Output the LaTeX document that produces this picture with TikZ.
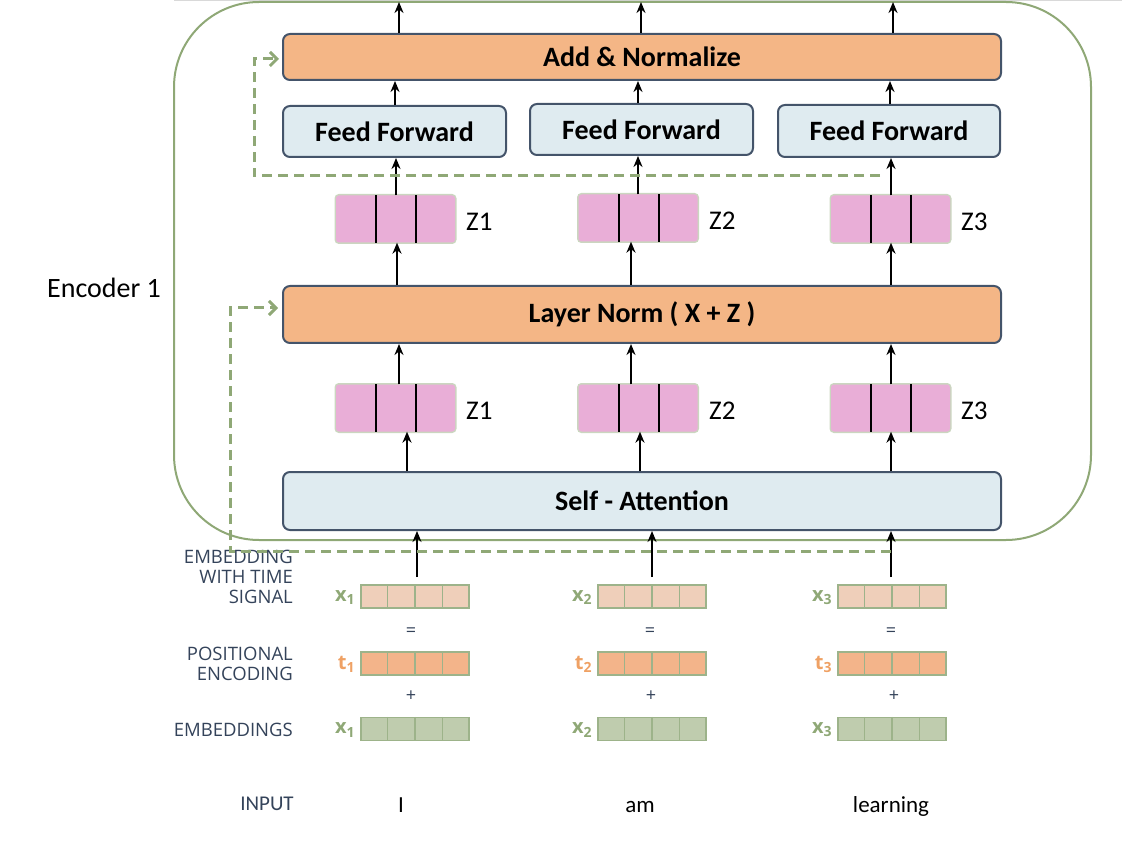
\documentclass[tikz,border=0pt]{standalone}
\usepackage{fontspec}
\setmainfont{Carlito}
\newfontfamily\osans{Open Sans}
\usetikzlibrary{arrows.meta,calc}
\definecolor{peach}{HTML}{F4B686}
\definecolor{pale}{HTML}{DFEBF0}
\definecolor{slate}{HTML}{44546A}
\definecolor{egreen}{HTML}{8FA876}
\definecolor{pinkz}{HTML}{E9AED7}
\definecolor{zsh}{HTML}{CBD6C0}
\definecolor{lbl}{HTML}{34435A}
\definecolor{tsig}{HTML}{EFCFBA}
\definecolor{posc}{HTML}{F3B48A}
\definecolor{embc}{HTML}{BFCCAE}
\definecolor{embline}{HTML}{9DB38A}
\definecolor{torange}{HTML}{EFA164}
\begin{document}
\begin{tikzpicture}[x=1pt,y=-1pt,
  box/.style={draw=slate,line width=2pt,rounded corners=7pt,inner sep=0pt,
    font=\fontsize{28}{30}\selectfont\bfseries},
  obox/.style={box,fill=peach},
  lbox/.style={box,fill=pale},
  zbox/.style={fill=pinkz,rounded corners=3pt,inner sep=0pt,minimum width=119pt,
    minimum height=47pt,preaction={draw=zsh,line width=3pt}},
  zlab/.style={anchor=west,inner sep=0pt,font=\fontsize{27}{29}\selectfont},
  ebox/.style={draw=embline,line width=1.5pt,inner sep=0pt,minimum width=108pt,minimum height=23pt},
  elab/.style={anchor=east,inner sep=0pt,font=\osans\bfseries\fontsize{20}{22}\selectfont},
  side/.style={anchor=north east,align=right,inner sep=0pt,text=lbl,
    font=\osans\fontsize{18.5}{20}\selectfont},
  sign/.style={inner sep=0pt,text=lbl,font=\osans\fontsize{18}{18}\selectfont},
  word/.style={anchor=base,inner sep=0pt,font=\fontsize{23}{25}\selectfont},
  arr/.style={line width=2.4pt,-{Stealth[length=11pt,width=9pt]}},
  res/.style={draw=egreen,line width=3pt,dash pattern=on 10pt off 6pt,
    -{Straight Barb[length=7pt,width=14pt]}}
]
\useasboundingbox (0,0) rectangle (1122,842);

% encoder outline
\draw[draw=black!15,line width=1pt] (174,1) -- (1122,1);
\node[draw=egreen,line width=2pt,rounded corners=85pt,minimum width=917pt,minimum height=538pt,inner sep=0pt] (enc) at (632.5,271) {};
\node[anchor=west,inner sep=0pt,font=\fontsize{28}{30}\selectfont] (enclab) at (47,288) {Encoder 1};

% main blocks
\node[obox,minimum width=718pt,minimum height=46pt] (add) at (642,57) {Add \& Normalize};
\node[lbox,minimum width=223pt,minimum height=51pt] (ff1) at (394.5,131.5) {Feed Forward};
\node[lbox,minimum width=223pt,minimum height=51pt] (ff2) at (641.5,129.5) {Feed Forward};
\node[lbox,minimum width=222pt,minimum height=52pt] (ff3) at (889,131) {Feed Forward};
\node[obox,minimum width=718pt,minimum height=57pt] (ln) at (642,314.5) {Layer Norm ( X + Z )};
\node[lbox,minimum width=718pt,minimum height=58pt] (sa) at (642,501) {Self - Attention};

% Z vectors
\node[zbox] (z1t) at (395.5,219) {};
\node[zbox] (z2t) at (638,218) {};
\node[zbox] (z3t) at (890.5,219) {};
\node[zbox] (z1b) at (395.5,408) {};
\node[zbox] (z2b) at (638,408) {};
\node[zbox] (z3b) at (890.5,408) {};
\foreach \z in {z1t,z2t,z3t,z1b,z2b,z3b}{
  \foreach \f in {0.34,0.675}{
    \draw[line width=2pt] ($(\z.north west)!\f!(\z.north east)$) -- ($(\z.south west)!\f!(\z.south east)$);
  }
}
\node[zlab] (l1t) at (466,222) {Z1};
\node[zlab] (l2t) at (709,221) {Z2};
\node[zlab] (l3t) at (961,222) {Z3};
\node[zlab] (l1b) at (466,411) {Z1};
\node[zlab] (l2b) at (709,411) {Z2};
\node[zlab] (l3b) at (961,411) {Z3};

% embedding rows
\foreach \n/\x in {1/415,2/652,3/892}{
  \node[ebox,fill=tsig] (ts\n) at (\x,596.5) {};
  \node[ebox,fill=posc] (pe\n) at (\x,663.5) {};
  \node[ebox,fill=embc] (em\n) at (\x,729) {};
  \foreach \r in {ts\n,pe\n,em\n}{
    \foreach \f in {0.25,0.5,0.75}{
      \draw[embline,line width=1.5pt] ($(\r.north west)!\f!(\r.north east)$) -- ($(\r.south west)!\f!(\r.south east)$);
    }
  }
  \node[elab,text=egreen] (tsl\n) at ($(ts\n.west)+(-5,1)$) {x\textsubscript{\n}};
  \node[elab,text=torange] (pel\n) at ($(pe\n.west)+(-5,1)$) {t\textsubscript{\n}};
  \node[elab,text=egreen] (eml\n) at ($(em\n.west)+(-5,1)$) {x\textsubscript{\n}};
}
\node[sign] (eq1) at (411,632) {=};
\node[sign] (eq2) at (650,632) {=};
\node[sign] (eq3) at (891,632) {=};
\node[sign] (pl1) at (411,696) {+};
\node[sign] (pl2) at (651,696) {+};
\node[sign] (pl3) at (894,696) {+};

\node[side] (sl1) at (293,550) {EMBEDDING\\WITH TIME\\SIGNAL};
\node[side] (sl2) at (293,647) {POSITIONAL\\ENCODING};
\node[side] (sl3) at (293,723) {EMBEDDINGS};
\node[word,text=lbl,font=\fontsize{21}{23}\selectfont] (inp) at (267,810) {INPUT};
\node[word] (w1) at (401,812) {I};
\node[word] (w2) at (640,812) {am};
\node[word] (w3) at (891,812) {learning};

% arrows column 1
\coordinate (o1) at (399,2);
\coordinate (e1) at (417,577);
\draw[arr] (399,0 |- add.north) -- (o1);
\draw[arr] (395,0 |- ff1.north) -- (395,0 |- add.south);
\draw[arr] (396,0 |- z1t.north) -- (396,0 |- ff1.south);
\draw[arr] (397,0 |- ln.north) -- (397,0 |- z1t.south);
\draw[arr] (399,0 |- z1b.north) -- (399,0 |- ln.south);
\draw[arr] (407,0 |- sa.north) -- (407,0 |- z1b.south);
\draw[arr] (e1) -- (417,0 |- sa.south);
% arrows column 2
\coordinate (o2) at (641,2);
\coordinate (e2) at (652,577);
\draw[arr] (641,0 |- add.north) -- (o2);
\draw[arr] (638,0 |- ff2.north) -- (638,0 |- add.south);
\draw[arr] (638,0 |- z2t.north) -- (638,0 |- ff2.south);
\draw[arr] (631,0 |- ln.north) -- (631,0 |- z2t.south);
\draw[arr] (631,0 |- z2b.north) -- (631,0 |- ln.south);
\draw[arr] (640,0 |- sa.north) -- (640,0 |- z2b.south);
\draw[arr] (e2) -- (652,0 |- sa.south);
% arrows column 3
\coordinate (o3) at (893,2);
\coordinate (e3) at (891,577);
\draw[arr] (893,0 |- add.north) -- (o3);
\draw[arr] (890,0 |- ff3.north) -- (890,0 |- add.south);
\draw[arr] (891,0 |- z3t.north) -- (891,0 |- ff3.south);
\draw[arr] (891,0 |- ln.north) -- (891,0 |- z3t.south);
\draw[arr] (891,0 |- z3b.north) -- (891,0 |- ln.south);
\draw[arr] (891,0 |- sa.north) -- (891,0 |- z3b.south);
\draw[arr] (e3) -- (891,0 |- sa.south);

% residual connections
\coordinate (r1a) at (891,551);
\coordinate (r2a) at (880,176);
\draw[res,shorten >=4pt] (r1a) -- (230,551) -- (230,308) -- (ln.west |- 0,308);
\draw[res,shorten >=3pt] (r2a) -- (254,176) -- (254,59) -- (add.west |- 0,59);
\end{tikzpicture}
\end{document}
